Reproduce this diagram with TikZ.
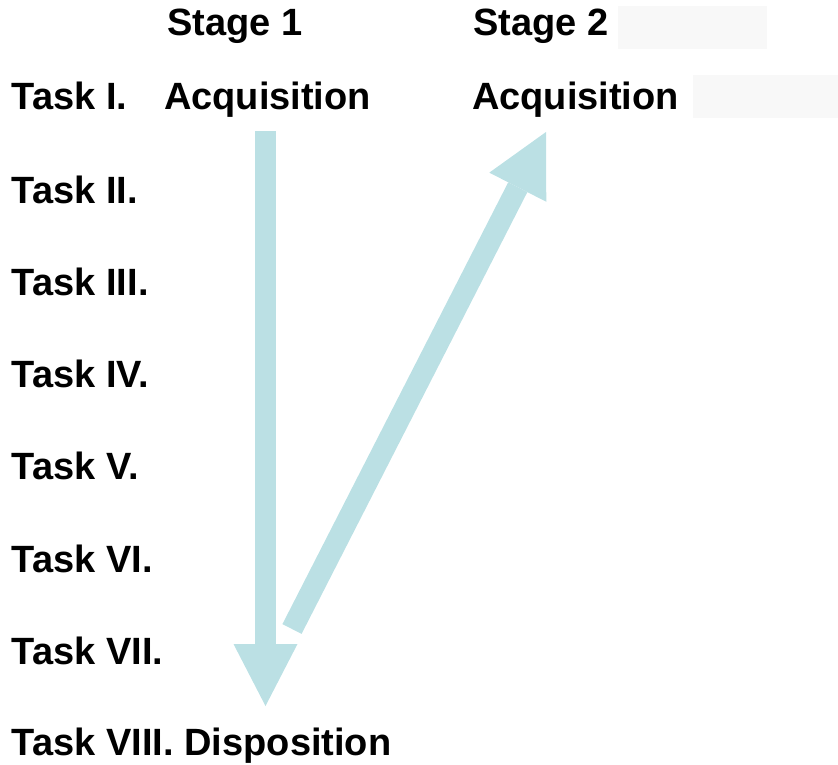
\documentclass[tikz,border=0pt]{standalone}
\usepackage{fontspec}
\setmainfont{Liberation Sans}
\usetikzlibrary{arrows.meta}
\definecolor{arrowteal}{RGB}{187,224,228}
\definecolor{maskgray}{RGB}{248,248,248}
\tikzset{
  lbl/.style={anchor=base west, inner sep=0pt, outer sep=0pt, font=\fontsize{38}{45}\selectfont\bfseries},
  bigarrow/.style={draw=arrowteal, line width=21.5pt, line cap=butt,
    -{Triangle[length=62pt, width=64pt, line width=0pt, fill=arrowteal]}},
  mask/.style={fill=maskgray, draw=none}
}
\begin{document}
\begin{tikzpicture}[x=1pt,y=-1pt]
\useasboundingbox (0,0) rectangle (838,765);
% masks
\fill[mask] (618,6) rectangle (767,49);
\fill[mask] (693,75) rectangle (838,118);
% headers
\node[lbl] (st1) at (167,36) {Stage 1};
\node[lbl] (st2) at (473,36) {Stage 2};
% task rows
\node[lbl] (t1) at (12,109.5) {Task I.};
\node[lbl] (a1) at (164,109.5) {Acquisition};
\node[lbl] (a2) at (472,109.5) {Acquisition};
\node[lbl] (t2) at (12,203) {Task II.};
\node[lbl] (t3) at (12,295.5) {Task III.};
\node[lbl] (t4) at (12,387.5) {Task IV.};
\node[lbl] (t5) at (12,479.5) {Task V.};
\node[lbl] (t6) at (12,572) {Task VI.};
\node[lbl] (t7) at (12,664) {Task VII.};
\node[lbl] (t8) at (12,755.5) {Task VIII. Disposition};
% arrows
\coordinate (downtop) at (265.5,131);
\coordinate (downtip) at (265.5,706);
\coordinate (uptail) at (292,629);
\coordinate (uptip) at (546,132);
\draw[bigarrow] (downtop) -- (downtip);
\draw[bigarrow] (uptail) -- (uptip);
\end{tikzpicture}
\end{document}
